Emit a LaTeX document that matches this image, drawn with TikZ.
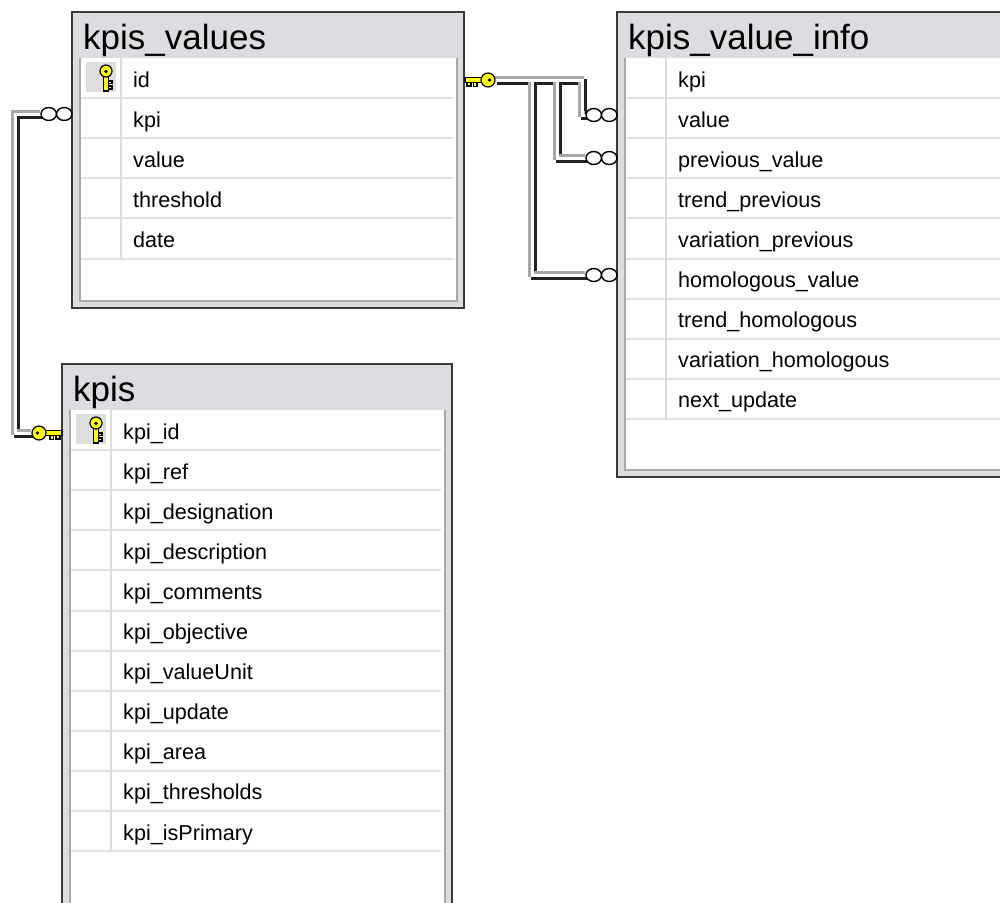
\documentclass[tikz,border=0pt]{standalone}
\usepackage{fontspec}
\setmainfont{Liberation Sans}

\definecolor{framegray}{HTML}{DDDDE1}
\definecolor{framedark}{HTML}{3A3A3A}
\definecolor{innergray}{HTML}{A9A9A9}
\definecolor{gridgray}{HTML}{E2E2E2}
\definecolor{colsepgray}{HTML}{DCDCDC}
\definecolor{keycell}{HTML}{DEDEDE}
\definecolor{keyyellow}{HTML}{FFFF00}
\definecolor{pipelight}{HTML}{A8A8A8}
\definecolor{pipedark}{HTML}{222222}

\tikzset{
  titletext/.style={font=\fontsize{35}{40}\selectfont, inner sep=0pt, anchor=base west},
  rowtext/.style={font=\fontsize{21.6}{26}\selectfont, inner sep=0pt, anchor=base west},
  gridline/.style={draw=gridgray, line width=2pt},
  colsep/.style={draw=colsepgray, line width=1.5pt},
  keyline/.style={draw=black, line width=1.2pt, fill=keyyellow},
  manyring/.style={draw=black, line width=1.4pt, fill=white},
  pipe dark layer/.style={draw=pipedark, line width=6pt,
    transform canvas={xshift=1.5pt, yshift=-1.5pt}},
  pipe light layer/.style={draw=pipelight, line width=6pt,
    transform canvas={xshift=-1.5pt, yshift=1.5pt}},
  pipe core layer/.style={draw=white, line width=3pt},
  % primary key glyph standing upright in the key column
  pics/vkey/.style={code={
    \path[keyline] (-2.5,3) rectangle (2.5,20);
    \path[keyline] (2.5,10) rectangle (6,12.5);
    \path[keyline] (2.5,15) rectangle (6,18);
    \path[keyline] (0,0) circle (6);
    \fill (0,0.5) circle (1.8);
  }},
  % key end of a relationship line, shaft towards +x
  pics/hkey/.style={code={
    \path[keyline] (5,-2.5) rectangle (23,2.5);
    \path[keyline] (11,2.5) rectangle (14.5,6.5);
    \path[keyline] (17,2.5) rectangle (21,6);
    \path[keyline] (0,0) circle (7);
    \fill (-1.5,0) circle (1.8);
  }},
  % "many" end of a relationship line
  pics/manyend/.style={code={
    \path[manyring] (7.75,0) ellipse (7.75 and 6.5);
    \path[manyring] (23.25,0) ellipse (7.75 and 6.5);
  }},
}

% #1 name, #2 left, #3 top, #4 right, #5 bottom, #6 title, #7 column names
\newcommand{\erdtable}[7]{%
  \fill[framegray] (#2,#3) rectangle (#4,#5);
  \fill[white] (#2+9,#3+46) rectangle (#4-8,#5-8);
  \draw[innergray, line width=2pt] (#2+8,#3+46) -- (#2+8,#5-7) -- (#4-7,#5-7) -- (#4-7,#3+46);
  \draw[framedark, line width=2pt] (#2,#3) rectangle (#4,#5);
  \node[titletext] (#1-title) at (#2+11,#3+37) {#6};
  \foreach \col [count=\i] in {#7} {
    \pgfmathsetmacro\rtop{#3+46+(\i-1)*40.1}
    \pgfmathsetmacro\rbot{\rtop+40.1}
    \draw[gridline] (#2+9,\rbot) -- (#4-11,\rbot);
    \draw[colsep] (#2+49,\rtop) -- (#2+49,\rbot);
    \node[rowtext] (#1-\i) at (#2+61,\rtop+29) {\col};
  }
}

% the three relationship lines, drawn once per shading layer
\newcommand{\relationlines}[1]{%
  \draw[#1] (a1) -- ++(-26,0) |- (a2);
  \draw[#1] (b0) -| ([xshift=-4pt]b1) -- (b1);
  \draw[#1] ([xshift=62pt]b0) |- (b2);
  \draw[#1] ([xshift=37pt]b0) |- (b3);
}

\begin{document}
\begin{tikzpicture}[x=1pt, y=-1pt]
  \useasboundingbox (0,0) rectangle (1000,902);
  \clip (0,0) rectangle (1000,902);
  \fill[white] (0,0) rectangle (1000,902);

  \erdtable{kv}{72}{12}{464}{308}{kpis\_values}
    {id, kpi, value, threshold, date}
  \erdtable{ki}{617}{12}{1015}{477}{kpis\_value\_info}
    {kpi, value, previous\_value, trend\_previous, variation\_previous,
     homologous\_value, trend\_homologous, variation\_homologous, next\_update}
  \erdtable{kp}{62}{364}{452}{915}{kpis}
    {kpi\_id, kpi\_ref, kpi\_designation, kpi\_description, kpi\_comments,
     kpi\_objective, kpi\_valueUnit, kpi\_update, kpi\_area, kpi\_thresholds,
     kpi\_isPrimary}

  % primary key markers
  \fill[keycell] (86,62) rectangle (116,92);
  \pic at (106,71) {vkey};
  \fill[keycell] (76,414) rectangle (106,444);
  \pic at (96,423) {vkey};

  % relationship end points
  \coordinate (a1) at (41,114);
  \coordinate (a2) at (32,433);
  \coordinate (b0) at (495,80);
  \coordinate (b1) at (586,115);
  \coordinate (b2) at (586,158);
  \coordinate (b3) at (586,275);

  \relationlines{pipe dark layer}
  \relationlines{pipe light layer}
  \relationlines{pipe core layer}

  \pic at (a1) {manyend};
  \pic at ([xshift=7pt]a2) {hkey};
  \pic[xscale=-1] at ([xshift=-7pt]b0) {hkey};
  \pic at (b1) {manyend};
  \pic at (b2) {manyend};
  \pic at (b3) {manyend};
\end{tikzpicture}
\end{document}
